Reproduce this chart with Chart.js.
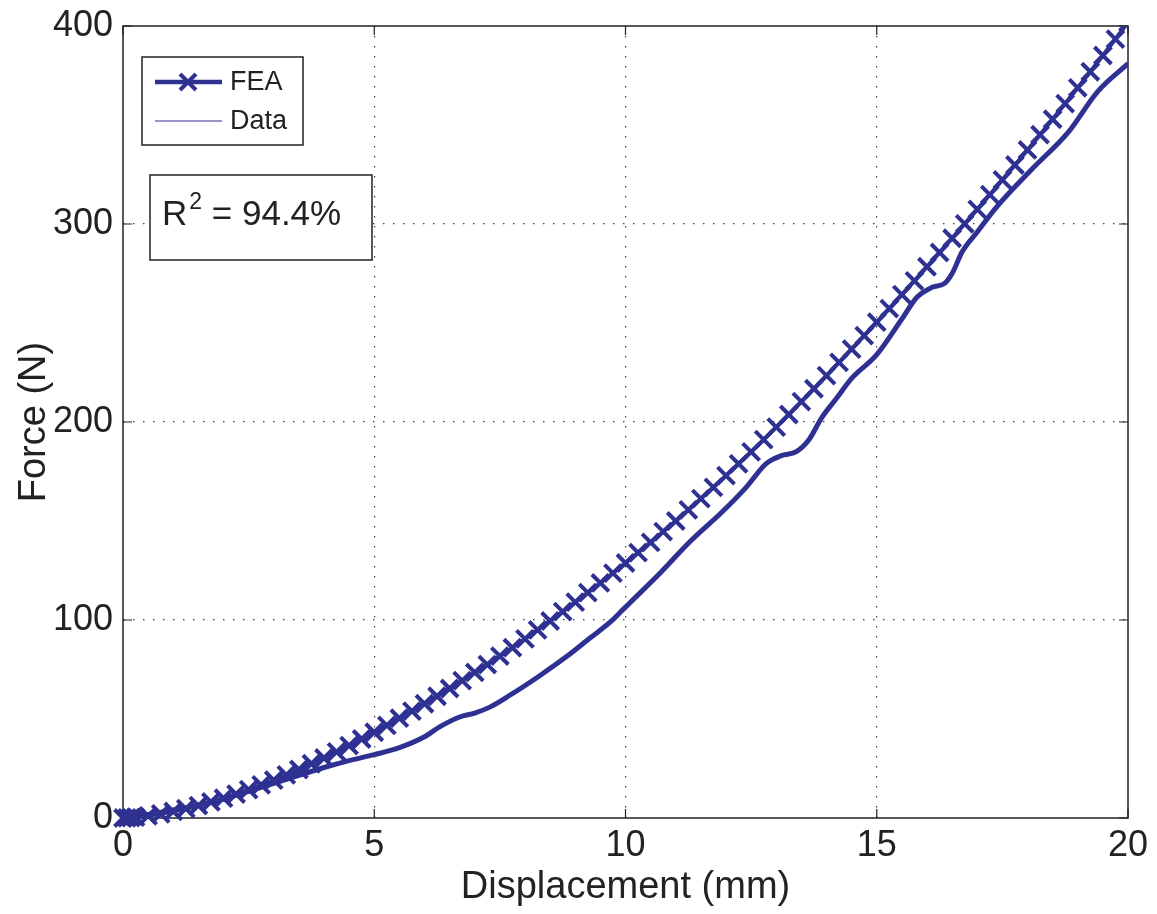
<!DOCTYPE html>
<html>
<head>
<meta charset="utf-8">
<script src="https://cdn.jsdelivr.net/npm/chart.js@4"></script>
<style>
  html, body { margin: 0; padding: 0; background: #fff; }
  #wrap { width: 1157px; height: 914px; }
</style>
</head>
<body>
<div id="wrap"><canvas id="c" width="1157" height="914"></canvas></div>
<script>
// FEA curve (mm, N)
var feaDisp = [0, 0.08, 0.16, 0.25, 0.5, 0.75, 1, 1.25, 1.5, 1.75, 2, 2.25, 2.5, 2.75, 3, 3.25, 3.5, 3.75, 4, 4.25, 4.5, 4.75,
  5, 5.25, 5.5, 5.75, 6, 6.25, 6.5, 6.75, 7, 7.25, 7.5, 7.75, 8, 8.25, 8.5, 8.75, 9, 9.25, 9.5, 9.75,
  10, 10.25, 10.5, 10.75, 11, 11.25, 11.5, 11.75, 12, 12.25, 12.5, 12.75, 13, 13.25, 13.5, 13.75, 14, 14.25, 14.5, 14.75,
  15, 15.25, 15.5, 15.75, 16, 16.25, 16.5, 16.75, 17, 17.25, 17.5, 17.75, 18, 18.25, 18.5, 18.75, 19, 19.25, 19.5, 19.75, 20];
var feaForce = [0, 0.1, 0.2, 0.4, 1.1, 2.1, 3.3, 4.7, 6.3, 8.1, 10.0, 12.1, 14.3, 16.7, 19.1, 21.8, 24.5, 27.4, 30.3, 33.4, 36.6, 39.9,
  43.3, 46.8, 50.4, 54.0, 57.7, 61.5, 65.4, 69.4, 73.5, 77.5, 81.8, 86.0, 90.5, 95.0, 99.5, 104.2, 109.0, 113.8, 118.7, 123.7,
  128.8, 134.0, 139.2, 144.6, 150.0, 155.6, 161.3, 167.0, 172.9, 178.9, 184.9, 191.1, 197.4, 203.8, 210.3, 216.8, 223.4, 230.1, 236.8, 243.6,
  250.4, 257.3, 264.3, 271.3, 278.4, 285.6, 292.8, 300.1, 307.4, 314.8, 322.3, 329.8, 337.4, 345.1, 352.9, 360.8, 368.8, 376.9, 385.1, 393.4, 401.8];

// measured data (mm, N)
var dataDisp = [0, 0.5, 1, 1.5, 2, 2.5, 3, 3.5, 4, 4.5, 5, 5.5, 6, 6.3, 6.7, 7.0, 7.3, 7.7, 8.3, 8.8, 9.3, 9.7, 9.9, 10.1, 10.7,
  11.3, 11.9, 12.4, 12.8, 13.1, 13.4, 13.65, 13.9, 14.2, 14.5, 15.0, 15.5, 15.8, 16.1, 16.35, 16.5, 16.7, 17.0, 17.4, 18.1, 18.8, 19.4, 20.0];
var dataForce = [0, 1.8, 4, 6.5, 9.5, 13.5, 17.5, 21.5, 25.5, 29, 32, 35.5, 41, 46, 51, 53, 56, 62, 72, 81, 91, 99, 104, 109, 124,
  140, 154, 167, 179, 183, 185, 191, 202, 212, 222, 234, 252, 263, 268, 270, 275, 286, 296, 309, 328, 346, 367, 381];

var xTicks = [0, 5, 10, 15, 20];
var yTicks = [0, 100, 200, 300, 400];
var rSquaredText = "94.4%";

var blue = "#2E3192";
var ink = "#222222";
var fontFamily = "'Liberation Sans', Arial, Helvetica, sans-serif";

function toPoints(xs, ys) {
  return xs.map(function (x, i) { return { x: x, y: ys[i] }; });
}

// frame, inward ticks, legend and R^2 box
var decorPlugin = {
  id: "decor",
  beforeDatasetsDraw: function (chart) {
    var ctx = chart.ctx, ca = chart.chartArea;
    var xs = chart.scales.x, ys = chart.scales.y;
    ctx.save();
    ctx.strokeStyle = ink;
    ctx.lineWidth = 1.5;
    ctx.strokeRect(ca.left, ca.top, ca.right - ca.left, ca.bottom - ca.top);
    ctx.lineWidth = 1.2;
    var len = 9;
    xTicks.forEach(function (v) {
      var px = xs.getPixelForValue(v);
      ctx.beginPath();
      ctx.moveTo(px, ca.bottom); ctx.lineTo(px, ca.bottom - len);
      ctx.moveTo(px, ca.top); ctx.lineTo(px, ca.top + len);
      ctx.stroke();
    });
    yTicks.forEach(function (v) {
      var py = ys.getPixelForValue(v);
      ctx.beginPath();
      ctx.moveTo(ca.left, py); ctx.lineTo(ca.left + len, py);
      ctx.moveTo(ca.right, py); ctx.lineTo(ca.right - len, py);
      ctx.stroke();
    });
    ctx.restore();
  },
  afterDraw: function (chart) {
    var ctx = chart.ctx, ca = chart.chartArea;
    var ds = chart.data.datasets;
    ctx.save();
    // legend box
    var lx = ca.left + 19, ly = ca.top + 31;
    ctx.fillStyle = "#fff";
    ctx.fillRect(lx, ly, 161, 88);
    ctx.strokeStyle = ink;
    ctx.lineWidth = 1.5;
    ctx.strokeRect(lx, ly, 161, 88);
    var rows = [ly + 25, ly + 64];
    // FEA row
    ctx.strokeStyle = ds[0].borderColor;
    ctx.lineWidth = 4.5;
    ctx.beginPath(); ctx.moveTo(lx + 13, rows[0]); ctx.lineTo(lx + 80, rows[0]); ctx.stroke();
    ctx.lineWidth = 4;
    var mx = lx + 46, my = rows[0], r = 8;
    ctx.beginPath();
    ctx.moveTo(mx - r, my - r); ctx.lineTo(mx + r, my + r);
    ctx.moveTo(mx + r, my - r); ctx.lineTo(mx - r, my + r);
    ctx.stroke();
    // Data row
    ctx.lineWidth = 1;
    ctx.strokeStyle = ds[1].borderColor;
    ctx.beginPath(); ctx.moveTo(lx + 13, rows[1]); ctx.lineTo(lx + 80, rows[1]); ctx.stroke();
    ctx.fillStyle = ink;
    ctx.font = "27px " + fontFamily;
    ctx.textBaseline = "middle";
    ctx.textAlign = "left";
    ctx.fillText(ds[0].label, lx + 88, rows[0] + 1);
    ctx.fillText(ds[1].label, lx + 88, rows[1] + 1);

    // R^2 box
    var bx = ca.left + 27, by = ca.top + 149;
    ctx.fillStyle = "#fff";
    ctx.fillRect(bx, by, 222, 85);
    ctx.strokeStyle = ink;
    ctx.lineWidth = 1.5;
    ctx.strokeRect(bx, by, 222, 85);
    ctx.fillStyle = ink;
    ctx.textBaseline = "alphabetic";
    ctx.font = "35px " + fontFamily;
    var tx = bx + 12, base = by + 50;
    ctx.fillText("R", tx, base);
    tx += ctx.measureText("R").width + 2;
    ctx.font = "23px " + fontFamily;
    ctx.fillText("2", tx, base - 16);
    tx += ctx.measureText("2").width;
    ctx.font = "35px " + fontFamily;
    ctx.fillText(" = " + rSquaredText, tx, base);
    ctx.restore();
  }
};

function gridColor(c) {
  var v = c.tick ? c.tick.value : null;
  var s = c.scale;
  if (v === s.min || v === s.max) return "rgba(0,0,0,0)";
  return "#444";
}

new Chart(document.getElementById("c").getContext("2d"), {
  type: "line",
  data: {
    datasets: [
      {
        label: "FEA",
        data: toPoints(feaDisp, feaForce),
        borderColor: blue,
        backgroundColor: blue,
        borderWidth: 4,
        pointStyle: "crossRot",
        pointRadius: 12,
        pointBorderWidth: 4,
        pointBorderColor: blue,
        pointHoverRadius: 12,
        tension: 0,
        fill: false,
        clip: { left: 12, bottom: 12, top: 0, right: 0 },
        order: 1
      },
      {
        label: "Data",
        data: toPoints(dataDisp, dataForce),
        borderColor: blue,
        backgroundColor: blue,
        borderWidth: 5,
        pointRadius: 0,
        cubicInterpolationMode: "monotone",
        fill: false,
        clip: { left: 4, bottom: 4, top: 0, right: 0 },
        order: 2
      }
    ]
  },
  options: {
    responsive: false,
    animation: false,
    layout: { padding: { top: 26, right: 29, left: 0, bottom: 0 } },
    plugins: { legend: { display: false }, tooltip: { enabled: false } },
    scales: {
      x: {
        type: "linear",
        min: 0, max: 20,
        afterFit: function (s) { s.height = 96; },
        afterBuildTicks: function (s) { s.ticks = xTicks.map(function (v) { return { value: v }; }); },
        ticks: { color: ink, padding: 6, font: { size: 36, family: fontFamily }, maxRotation: 0 },
        grid: { color: gridColor, lineWidth: 1.2, drawTicks: false },
        border: { display: false, dash: [1.5, 8.5] },
        title: { display: true, text: "Displacement (mm)", color: ink, font: { size: 38, family: fontFamily }, padding: { top: 0, bottom: 4 } }
      },
      y: {
        type: "linear",
        min: 0, max: 400,
        afterFit: function (s) { s.width = 123; s.paddingTop = 0; s.paddingBottom = 0; },
        afterBuildTicks: function (s) { s.ticks = yTicks.map(function (v) { return { value: v }; }); },
        ticks: { color: ink, padding: 10, font: { size: 36, family: fontFamily } },
        grid: { color: gridColor, lineWidth: 1.2, drawTicks: false },
        border: { display: false, dash: [1.5, 8.5] },
        title: { display: true, text: "Force (N)", color: ink, font: { size: 38, family: fontFamily }, padding: { top: 12, bottom: 0 } }
      }
    }
  },
  plugins: [decorPlugin]
});
</script>
</body>
</html>
